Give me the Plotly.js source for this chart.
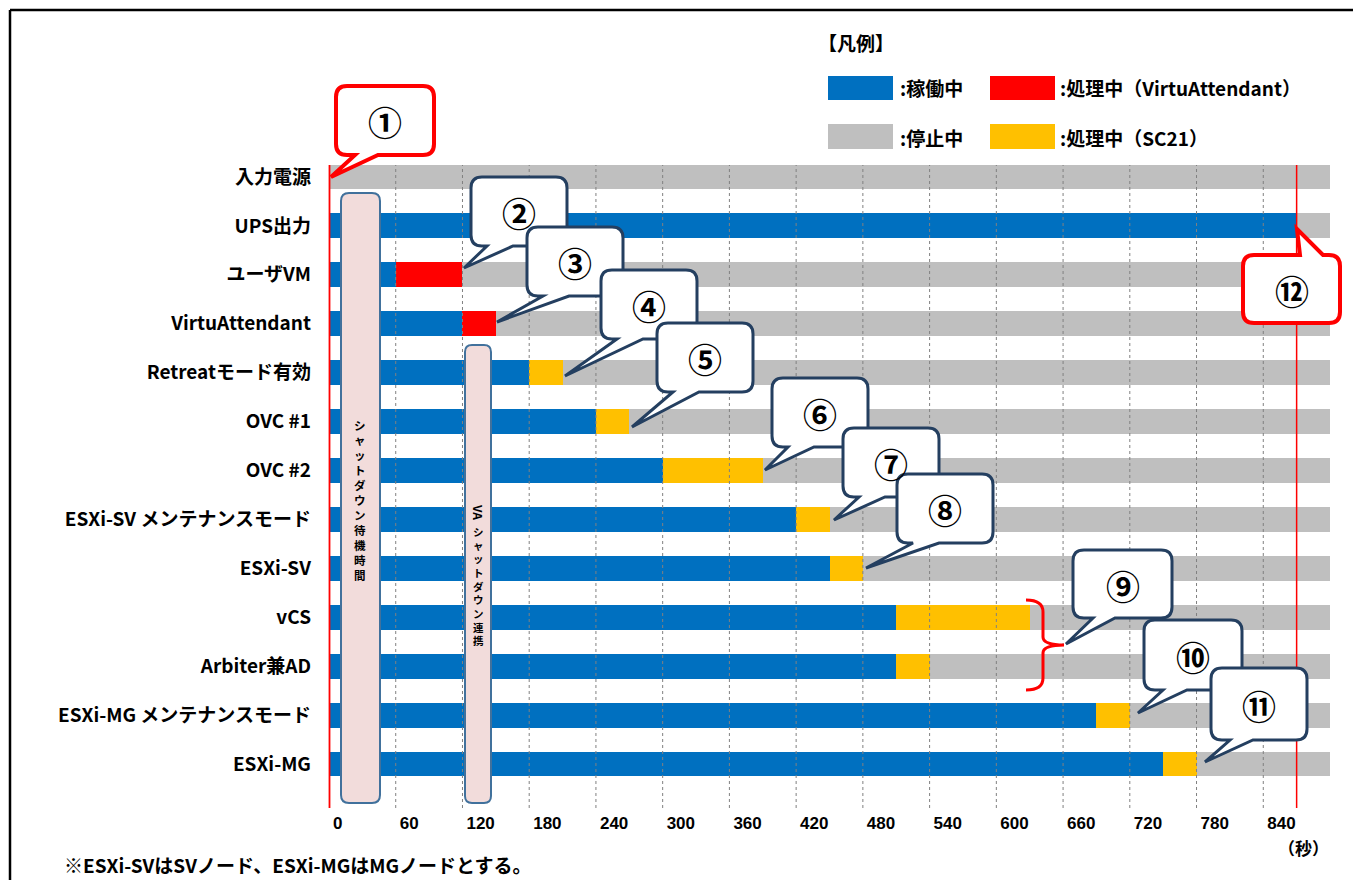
<!DOCTYPE html>
<html><head><meta charset="utf-8">
<script src="https://cdn.plot.ly/plotly-3.0.1.min.js"></script>
<style>html,body{margin:0;padding:0;background:#fff;}#chart{width:1353px;height:880px;}</style>
</head><body><div id="chart"></div>
<script>
// ---- data ----
const categories = ["入力電源","UPS出力","ユーザVM","VirtuAttendant","Retreatモード有効","OVC #1","OVC #2","ESXi-SV メンテナンスモード","ESXi-SV","vCS","Arbiter兼AD","ESXi-MG メンテナンスモード","ESXi-MG"];
const running  = [0,870,60,120,180,240,300,420,450,510,510,690,750];
const procVA   = [0,0,60,30,0,0,0,0,0,0,0,0,0];
const procSC21 = [0,0,0,0,30,30,90,30,30,120,30,30,30];
const stopped  = [900,30,780,750,690,630,510,450,420,270,360,180,120];
const tickValues = [0,60,120,180,240,300,360,420,480,540,600,660,720,780,840];
const tickLabels = ["0","60","120","180","240","300","360","420","480","540","600","660","720","780","840"];
const legendTitle = "【凡例】";
const legendLabels = [":稼働中", ":処理中（VirtuAttendant）", ":停止中", ":処理中（SC21）"];
const calloutLabels = ["①","②","③","④","⑤","⑥","⑦","⑧","⑨","⑩","⑪","⑫"];
const waitLabel = "シャットダウン待機時間";
const vaPrefix = "VA";
const vaLabel = "シャットダウン連携";
const unitLabel = "（秒）";
const footnote = "※ESXi-SVはSVノード、ESXi-MGはMGノードとする。";

// ---- styles / layout geometry ----
const C = {blue:"#0070C0", red:"#FF0000", yellow:"#FFC000", gray:"#BFBFBF", navy:"#243F60", pink:"#F2DCDB", pinkLine:"#41719C"};
const W = 1353, H = 880, L = 329, R = 1330, T = 165, B = 808;
const XMAX = 900;
const JP = "Noto Sans CJK JP";
const xp = px => (px - L) / (R - L);
const yp = py => (B - py) / (B - T);
const pt = (px, py) => xp(px).toFixed(5) + "," + yp(py).toFixed(5);
const pxPerUnit = (R - L) / XMAX;

function bubblePath(x0, y0, x1, y1, r, tail) {
  let d = "M" + pt(x0 + r, y0);
  if (tail && tail.side === "top") d += " L" + pt(tail.b1, y0) + " L" + pt(tail.tx, tail.ty) + " L" + pt(tail.b2, y0);
  d += " L" + pt(x1 - r, y0) + " Q" + pt(x1, y0) + " " + pt(x1, y0 + r);
  d += " L" + pt(x1, y1 - r) + " Q" + pt(x1, y1) + " " + pt(x1 - r, y1);
  if (tail && tail.side === "bottom") d += " L" + pt(tail.b2, y1) + " L" + pt(tail.tx, tail.ty) + " L" + pt(tail.b1, y1);
  d += " L" + pt(x0 + r, y1) + " Q" + pt(x0, y1) + " " + pt(x0, y1 - r);
  d += " L" + pt(x0, y0 + r) + " Q" + pt(x0, y0) + " " + pt(x0 + r, y0) + " Z";
  return d;
}

// ---- traces ----
function barTrace(vals, color) {
  return {type:"bar", orientation:"h", y:categories, x:vals, width:0.51,
    marker:{color:color, line:{width:0}}, hoverinfo:"skip", showlegend:false};
}
const data = [barTrace(running, C.blue), barTrace(procVA, C.red), barTrace(procSC21, C.yellow), barTrace(stopped, C.gray)];

// ---- shapes ----
const shapes = [];
shapes.push({type:"line", xref:"paper", yref:"paper", x0:xp(10), x1:xp(W), y0:yp(10), y1:yp(10), line:{color:"#000", width:2.5}});
shapes.push({type:"line", xref:"paper", yref:"paper", x0:xp(10), x1:xp(10), y0:yp(10), y1:yp(H), line:{color:"#000", width:2.5}});
tickValues.forEach(v => { if (v > 0) shapes.push({type:"line", layer:"above", xref:"x", yref:"paper", x0:v, x1:v, y0:0, y1:1, line:{color:"#808080", width:1, dash:"dot"}}); });
shapes.push({type:"line", layer:"above", xref:"paper", yref:"paper", x0:xp(329.5), x1:xp(329.5), y0:0, y1:1, line:{color:C.red, width:1.8}});
shapes.push({type:"line", layer:"above", xref:"x", yref:"paper", x0:running[1], x1:running[1], y0:0, y1:1, line:{color:C.red, width:1.5}});
shapes.push({type:"path", layer:"above", xref:"paper", yref:"paper", path:bubblePath(341,193,380,803,8,null), fillcolor:C.pink, line:{color:C.pinkLine, width:2}});
shapes.push({type:"path", layer:"above", xref:"paper", yref:"paper", path:bubblePath(465,345,491,803,7,null), fillcolor:C.pink, line:{color:C.pinkLine, width:2}});
shapes.push({type:"path", layer:"above", xref:"paper", yref:"paper",
  path:"M"+pt(1026,600)+" Q"+pt(1043,600)+" "+pt(1043,612)+" L"+pt(1043,637)+" Q"+pt(1043,645)+" "+pt(1064,645)+" Q"+pt(1043,645)+" "+pt(1043,653)+" L"+pt(1043,678)+" Q"+pt(1043,690)+" "+pt(1026,690),
  line:{color:C.red, width:3}});
const bubbles = [
  {b:[336,86,434,155], t:{side:"bottom", b1:355, b2:378, tx:331, ty:177}, c:C.red, w:4},
  {b:[471,177,567,246], t:{side:"bottom", b1:487, b2:513, tx:464, ty:268}, c:C.navy, w:3},
  {b:[527,227,623,296], t:{side:"bottom", b1:543, b2:569, tx:497, ty:322}, c:C.navy, w:3},
  {b:[601,270,697,339], t:{side:"bottom", b1:617, b2:643, tx:565, ty:376}, c:C.navy, w:3},
  {b:[657,323,753,392], t:{side:"bottom", b1:673, b2:699, tx:632, ty:427}, c:C.navy, w:3},
  {b:[772,378,868,447], t:{side:"bottom", b1:788, b2:814, tx:765, ty:470}, c:C.navy, w:3},
  {b:[843,428,939,497], t:{side:"bottom", b1:859, b2:885, tx:834, ty:520}, c:C.navy, w:3},
  {b:[897,474,993,543], t:{side:"bottom", b1:913, b2:939, tx:866, ty:568}, c:C.navy, w:3},
  {b:[1073,550,1172,618], t:{side:"bottom", b1:1093, b2:1115, tx:1066, ty:644}, c:C.navy, w:3},
  {b:[1144,620,1242,690], t:{side:"bottom", b1:1163, b2:1187, tx:1138, ty:713}, c:C.navy, w:3},
  {b:[1211,668,1307,740], t:{side:"bottom", b1:1230, b2:1253, tx:1205, ty:762}, c:C.navy, w:3},
  {b:[1243,255,1340,323], t:{side:"top", b1:1300, b2:1323, tx:1297, ty:229}, c:C.red, w:4}
];
bubbles.forEach(o => shapes.push({type:"path", layer:"above", xref:"paper", yref:"paper",
  path:bubblePath(o.b[0], o.b[1], o.b[2], o.b[3], 11, o.t), fillcolor:"#fff", line:{color:o.c, width:o.w}}));
const swatches = [[828,76,893,100,C.blue],[990,76,1055,100,C.red],[828,124,893,149,C.gray],[990,124,1055,149,C.yellow]];
swatches.forEach(s => shapes.push({type:"rect", xref:"paper", yref:"paper", x0:xp(s[0]), x1:xp(s[2]), y0:yp(s[3]), y1:yp(s[1]), fillcolor:s[4], line:{width:0}}));

// ---- annotations ----
const ann = [];
const bold = size => ({family:JP, size:size, color:"#000", weight:"bold"});
const txt = (text, px, py, font, opts) => Object.assign({text:text, xref:"paper", yref:"paper", x:xp(px), y:yp(py), showarrow:false,
  xanchor:"center", yanchor:"middle", font:font}, opts || {});
bubbles.forEach((o, i) => ann.push(txt(calloutLabels[i], (o.b[0]+o.b[2])/2, (o.b[1]+o.b[3])/2 + 1, bold(34))));
ann.push(txt(legendTitle, 856, 42, bold(19)));
[[898,88],[1058,88],[898,137],[1058,137]].forEach((p, i) => ann.push(txt(legendLabels[i], p[0], p[1], bold(19), {xanchor:"left"})));
ann.push(txt(Array.from(waitLabel).join("<br>"), 360, 499.5, bold(11.5)));
ann.push(txt(vaPrefix, 478, 512, bold(12), {textangle:90}));
ann.push(txt(Array.from(vaLabel).join("<br>"), 478, 586, bold(10.5)));
ann.push(txt(unitLabel, 1303, 847, bold(17)));
ann.push(txt(footnote, 62, 880, bold(19), {xanchor:"left", yanchor:"bottom"}));

// tick labels are left-aligned just right of each gridline
const tickFont = 17, digitW = 9.45;
const tickPos = tickValues.map((v, i) => v + (4 + tickLabels[i].length * digitW / 2) / pxPerUnit);

const layout = {
  width:W, height:H, margin:{l:L, r:W-R, t:T, b:H-B, pad:0},
  paper_bgcolor:"#fff", plot_bgcolor:"#fff", barmode:"stack", bargap:0, showlegend:false,
  xaxis:{range:[0, XMAX], showgrid:false, zeroline:false, showline:false, ticks:"", tickmode:"array",
    tickvals:tickPos, ticktext:tickLabels, ticklabelstandoff:3,
    tickfont:{family:"Liberation Sans", size:tickFont, color:"#000", weight:"bold"}, fixedrange:true},
  yaxis:{type:"category", categoryorder:"array", categoryarray:categories, range:[12.9, -0.245],
    showgrid:false, zeroline:false, showline:false, ticks:"", ticklabelstandoff:17,
    tickfont:bold(19), fixedrange:true},
  shapes:shapes, annotations:ann
};
Plotly.newPlot("chart", data, layout, {staticPlot:true, displayModeBar:false});
</script></body></html>
